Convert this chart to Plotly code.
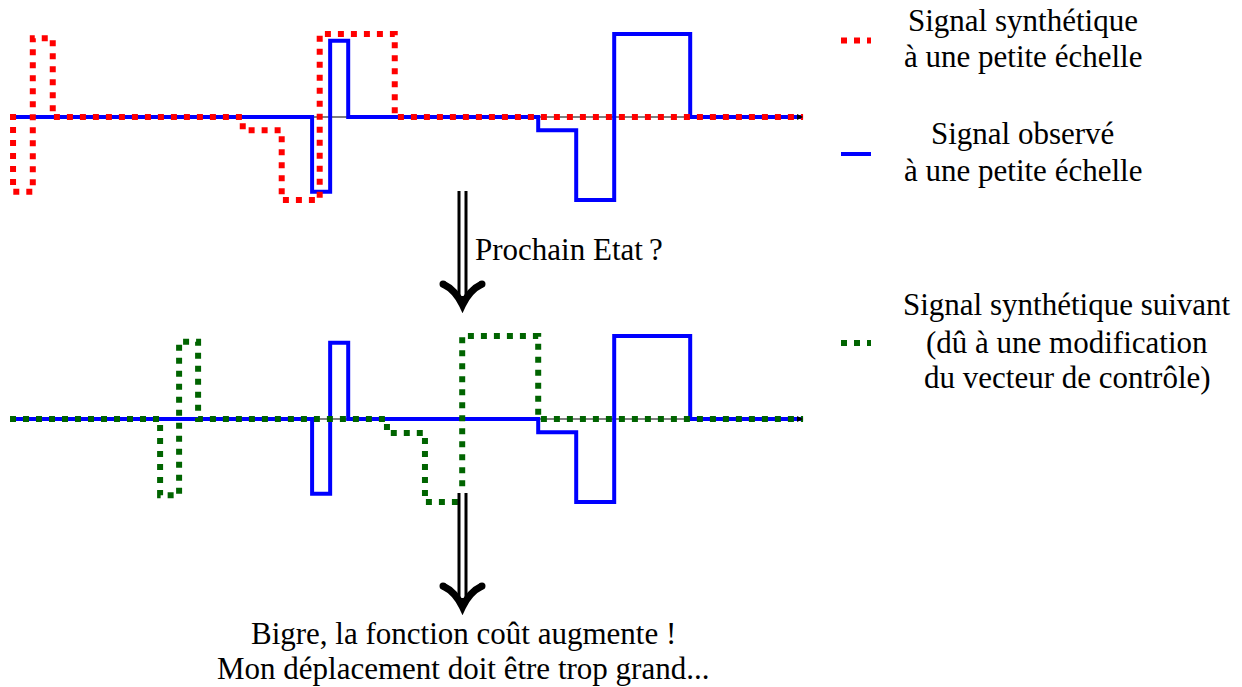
import plotly.graph_objects as go

# ---------------- data (time in arbitrary units, amplitude normalised) -------------
red_t = [0, 0.16, 1.2, 2.25, 12.25, 14.3, 16.3, 20.25, 41.74]
red_a = [0, -0.9, 0.95, 0, -0.16, -1.0, 1.0, 0, 0]

blue_t = [0, 15.9, 16.85, 17.8, 27.8, 29.8, 31.8, 35.8, 41.74]
blue_a = [0, -0.9, 0.92, 0, -0.16, -1.0, 1.0, 0, 0]

green_t = [0, 7.9, 8.9, 9.9, 19.84, 21.84, 23.8, 27.8, 41.74]
green_a = [0, -0.92, 0.93, 0, -0.17, -1.0, 1.0, 0, 0]

axis_t = [0, 41.74]
axis_a = [0, 0]

legend_top = ["Signal synthétique", "à une petite échelle"]
legend_mid = ["Signal observé", "à une petite échelle"]
legend_bot = ["Signal synthétique suivant", "(dû à une modification", "du vecteur de contrôle)"]
arrow_label = "Prochain Etat\u2009?"
bottom_text = ["Bigre, la fonction coût augmente !", "Mon déplacement doit être trop grand..."]

# ---------------- layout constants ----------------
W, H = 1242, 687
X0, SX = 10.0, 19.0          # px of t=0, px per time unit
PXU = 83.0                   # px per amplitude unit
R = 1.2
TOP_BASE, BOT_BASE = 117.0, 419.0

RED, BLUE, GREEN = "#ff0000", "#0000ff", "#006400"
DOT = "6px,7px"
FONT = '"Liberation Serif", "DejaVu Serif", serif'
FS = 31


def dom(base):
    c = (H - base) / H
    h = R * PXU / H
    return [c - h, c + h]


def px(x):
    return x / W


def py(y):
    return 1 - y / H


fig = go.Figure()

for yax in ["y", "y2"]:
    fig.add_trace(go.Scatter(x=axis_t, y=axis_a, mode="lines", yaxis=yax,
                             line=dict(color="black", width=1.2), showlegend=False,
                             hoverinfo="skip"))

fig.add_trace(go.Scatter(x=blue_t, y=blue_a, mode="lines", line_shape="hv", yaxis="y",
                         line=dict(color=BLUE, width=4), showlegend=False))
fig.add_trace(go.Scatter(x=red_t, y=red_a, mode="lines", line_shape="hv", yaxis="y",
                         line=dict(color=RED, width=6, dash=DOT), showlegend=False))
fig.add_trace(go.Scatter(x=blue_t, y=blue_a, mode="lines", line_shape="hv", yaxis="y2",
                         line=dict(color=BLUE, width=4), showlegend=False))
fig.add_trace(go.Scatter(x=green_t, y=green_a, mode="lines", line_shape="hv", yaxis="y2",
                         line=dict(color=GREEN, width=6, dash=DOT), showlegend=False))

shapes = []
# legend samples
for (yy, col, wd, ds) in [(40.5, RED, 6, DOT), (154, BLUE, 4, "solid"), (343, GREEN, 6, DOT)]:
    shapes.append(dict(type="line", xref="paper", yref="paper",
                       x0=px(841), x1=px(871), y0=py(yy), y1=py(yy),
                       line=dict(color=col, width=wd, dash=ds)))

# double arrows
def arrow(xc, ytop, ytip):
    s = []
    s.append(dict(type="line", xref="paper", yref="paper", x0=px(xc), x1=px(xc),
                  y0=py(ytop), y1=py(ytip - 4), line=dict(color="black", width=10)))
    s.append(dict(type="line", xref="paper", yref="paper", x0=px(xc), x1=px(xc),
                  y0=py(ytop), y1=py(ytip - 9), line=dict(color="white", width=4)))
    wl, wr, wy = xc - 19.5, xc + 19.5, ytip - 21
    path = (f"M {px(wl)},{py(wy)} Q {px(xc - 7)},{py(ytip - 15)} {px(xc)},{py(ytip)} "
            f"Q {px(xc + 7)},{py(ytip - 15)} {px(wr)},{py(wy)}")
    s.append(dict(type="path", xref="paper", yref="paper", path=path,
                  line=dict(color="black", width=7)))
    for ex in (wl, wr):
        s.append(dict(type="circle", xref="paper", yref="paper",
                      x0=px(ex - 3.5), x1=px(ex + 3.5), y0=py(wy - 3.5), y1=py(wy + 3.5),
                      fillcolor="black", line=dict(width=0)))
    return s

shapes += arrow(462.5, 191, 305)
shapes += arrow(462.5, 493, 607)

annotations = []

def txt(t, x, y, anchor="center"):
    annotations.append(dict(text=t, xref="paper", yref="paper", x=px(x), y=py(y),
                            xanchor=anchor, yanchor="middle", showarrow=False,
                            font=dict(family=FONT, size=FS, color="black")))

for t, y in zip(legend_top, [20.5, 56]):
    txt(t, 1022.5, y)
for t, y in zip(legend_mid, [134, 170]):
    txt(t, 1022.5, y)
for t, y in zip(legend_bot, [304, 342, 377.5]):
    txt(t, 1067, y)
txt(arrow_label, 473, 249.5, "left")
for t, y in zip(bottom_text, [633.5, 668.5]):
    txt(t, 463, y)

# small arrow tips on the time axes
for yr in ["y", "y2"]:
    annotations.append(dict(text="", x=axis_t[1], y=0, ax=axis_t[1] - 0.4, ay=0,
                            xref="x", yref=yr, axref="x", ayref=yr, showarrow=True,
                            arrowhead=2, arrowsize=1, arrowwidth=1.2, arrowcolor="black"))

fig.update_layout(
    width=W, height=H,
    margin=dict(l=0, r=0, t=0, b=0, pad=0),
    paper_bgcolor="white", plot_bgcolor="white",
    xaxis=dict(domain=[0, 1], range=[(0 - X0) / SX, (W - X0) / SX], visible=False),
    yaxis=dict(domain=dom(TOP_BASE), range=[-R, R], visible=False),
    yaxis2=dict(domain=dom(BOT_BASE), range=[-R, R], visible=False, anchor="x"),
    shapes=shapes,
    annotations=annotations,
    showlegend=False,
)

fig.write_html("out.html", config={"displayModeBar": False},
               post_script="document.body.style.margin='0px';")
